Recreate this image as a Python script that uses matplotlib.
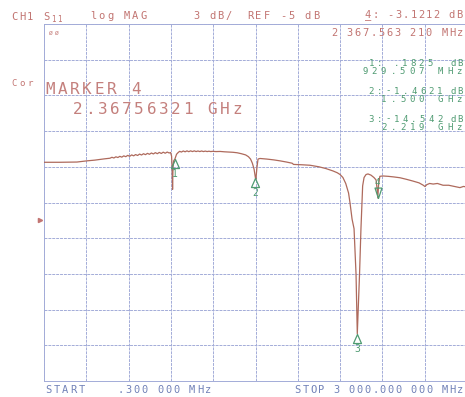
import numpy as np
import matplotlib
matplotlib.use("Agg")
import matplotlib.pyplot as plt
import matplotlib.transforms as mtransforms

W, H = 465, 397

# S11 trace (MHz, dB)
freq_mhz = [0.3, 50, 113, 200, 234, 305, 360, 397, 430,
            468, 482, 496, 510, 524, 538, 552, 566, 580, 594, 608, 622, 636, 650, 664, 678,
            692, 706, 720, 734, 748, 762, 776, 790, 804, 818, 832, 846, 860, 874, 888, 898,
            905, 909, 912, 915, 920, 929.5, 940, 950,
            962, 975, 988, 1001, 1014, 1027, 1040, 1053, 1066, 1079, 1092, 1105, 1118, 1131,
            1144, 1157, 1170, 1183, 1196, 1220, 1250, 1280, 1310, 1340, 1370, 1400,
            1430, 1450, 1465, 1478, 1490, 1500, 1503, 1510, 1518, 1532,
            1580, 1630, 1674, 1720, 1760, 1770, 1830, 1887, 1950, 2000, 2050, 2080, 2100,
            2120, 2140, 2160, 2170, 2185, 2199, 2213, 2222, 2238, 2248, 2260, 2270, 2284,
            2298, 2319, 2340, 2355, 2362, 2367.6, 2373, 2382,
            2402, 2440, 2480, 2525, 2570, 2617, 2660, 2690, 2702, 2715, 2735, 2760, 2790,
            2830, 2870, 2910, 2950, 2975, 3000]
s11_db = [-0.12, -0.12, -0.12, -0.11, -0.10, 0.0, 0.06, 0.12, 0.17,
          0.22, 0.30, 0.24, 0.34, 0.28, 0.38, 0.31, 0.42, 0.35, 0.46, 0.38, 0.50, 0.42, 0.53, 0.45, 0.57,
          0.49, 0.60, 0.52, 0.63, 0.55, 0.66, 0.58, 0.69, 0.60, 0.71, 0.62, 0.73, 0.64, 0.74, 0.66, 0.70,
          0.40, -0.60, -2.40, -0.60, 0.00, 0.18, 0.55, 0.68,
          0.80, 0.74, 0.83, 0.76, 0.84, 0.77, 0.84, 0.78, 0.84, 0.78, 0.83, 0.78, 0.83, 0.78,
          0.82, 0.78, 0.81, 0.78, 0.80, 0.78, 0.79, 0.76, 0.74, 0.72, 0.68, 0.60,
          0.50, 0.35, 0.15, -0.20, -0.70, -1.46, -1.55, -0.60, 0.15, 0.20,
          0.15, 0.08, 0.00, -0.10, -0.20, -0.30, -0.33, -0.37, -0.50, -0.65, -0.85, -1.00, -1.15,
          -1.40, -1.90, -2.70, -3.50, -4.90, -5.70, -9.50, -14.54, -9.50, -5.70, -2.10, -1.40, -1.15,
          -1.10, -1.20, -1.40, -1.60, -2.30, -3.12, -2.00, -1.30,
          -1.27, -1.30, -1.35, -1.42, -1.55, -1.70, -1.85, -2.05, -2.16, -2.00, -1.90, -1.95, -1.90,
          -2.05, -2.05, -2.15, -2.25, -2.15, -2.20]

marker_ids = ["1", "2", "3", "4"]
marker_freq = [929.507, 1500.0, 2219.0, 2367.56321]
marker_db = [0.1825, -1.4621, -14.542, -3.1212]
active_marker = "4"

ref_level = -5
scale_db = 3
start_mhz, stop_mhz = 0.3, 3000.0

red_txt = "#c27572"
pink_txt = "#c4807d"
green_txt = "#4f9b72"
blue_txt = "#7282b8"
trace_col = "#ae6a5c"
grid_col = "#a3acd8"

fig = plt.figure(figsize=(W / 100, H / 100), dpi=100)
ax = fig.add_axes([44 / W, (H - 381) / H, 423 / W, 357 / H])

ylo, yhi = -18.5, 11.5
ax.set_xlim(start_mhz, stop_mhz)
ax.set_ylim(ylo, yhi)
ax.set_xticks(np.linspace(start_mhz, stop_mhz, 11))
ax.set_yticks(np.arange(ylo, yhi + 0.1, scale_db))
ax.grid(True, color=grid_col, lw=0.7, ls=(0, (3, 1)))
ax.tick_params(length=0, labelbottom=False, labelleft=False)
for sp in ax.spines.values():
    sp.set_color(grid_col)
    sp.set_linewidth(0.7)
    sp.set_linestyle((0, (3, 1)))

ax.plot(freq_mhz, s11_db, color=trace_col, lw=0.9, zorder=3)

# reference position arrow on the left edge
blend = mtransforms.blended_transform_factory(ax.transAxes, ax.transData)
ax.plot([-0.009], [ref_level], marker=">", ms=3, color=red_txt, transform=blend, clip_on=False)

# marker triangles (tip on the trace)
up_tri = [(0, 0), (-4, -9), (4, -9), (0, 0)]
down_tri = [(0, 0), (-4, 12), (4, 12), (0, 0)]
for mid, f, v in zip(marker_ids, marker_freq, marker_db):
    if mid == active_marker:
        ax.plot([f], [v], marker=down_tri, ms=15, mfc="none", mec=green_txt, mew=0.9, zorder=4)
        ax.annotate(mid, (f, v), xytext=(-1, 15), textcoords="offset pixels", ha="center",
                    va="center", fontsize=6.5, color=green_txt, family="DejaVu Sans Mono")
    else:
        ax.plot([f], [v], marker=up_tri, ms=13, mfc="none", mec=green_txt, mew=0.9, zorder=4)
        ax.annotate(mid, (f, v), xytext=(0, -15), textcoords="offset pixels", ha="center",
                    va="center", fontsize=7, color=green_txt, family="DejaVu Sans Mono")


def put(s, x0, x1, y, size, color):
    # spread characters evenly between x0 and x1 (pixels), like the plotter font
    pitch = (x1 - x0) / len(s)
    for i, ch in enumerate(s):
        fig.text((x0 + (i + 0.5) * pitch) / W, 1 - y / H, ch, fontsize=size, color=color,
                 family="DejaVu Sans Mono", ha="center", va="center")


# header
put("CH1", 10, 34, 17, 7.5, red_txt)
put("S", 42, 50, 17, 7.5, red_txt)
put("11", 50, 62, 20, 5.5, red_txt)
put("log MAG", 89, 148, 16, 7.5, red_txt)
put("3 dB/", 192, 233, 16, 7.5, red_txt)
put("REF -5 dB", 246, 320, 16, 7.5, red_txt)
put("4: -3.1212 dB", 364, 463, 15, 7.5, red_txt)
put("_", 364, 372, 16, 7.5, red_txt)
put("2 367.563 210 MHz", 330, 464, 33, 7.5, red_txt)
put("ØØ", 48, 60, 33, 4.5, red_txt)

put("Cor", 10, 34, 83, 6.5, red_txt)
put("MARKER 4", 44, 142, 90, 11.5, pink_txt)
put("2.36756321 GHz", 72, 243, 109, 11.5, pink_txt)

# marker list
put("1:", 367, 384, 64, 6.5, green_txt)
put(".1825", 392, 434, 64, 6.5, green_txt)
put("dB", 449, 464, 64, 6.5, green_txt)
put("929.507 MHz", 360, 464, 72, 6.5, green_txt)
put("2:", 367, 384, 91, 6.5, green_txt)
put("-1.4621", 384, 444, 91, 6.5, green_txt)
put("dB", 449, 464, 91, 6.5, green_txt)
put("1.500 GHz", 379, 464, 99, 6.5, green_txt)
put("3:", 367, 384, 119, 6.5, green_txt)
put("-14.542", 384, 444, 119, 6.5, green_txt)
put("dB", 449, 464, 119, 6.5, green_txt)
put("2.219 GHz", 379, 464, 127, 6.5, green_txt)

# footer
put("START", 44, 86, 390, 7.5, blue_txt)
put(".300 000 MHz", 117, 212, 390, 7.5, blue_txt)
put("STOP 3 000.000 000 MHz", 294, 464, 390, 7.5, blue_txt)

fig.savefig("out.png", dpi=100)
